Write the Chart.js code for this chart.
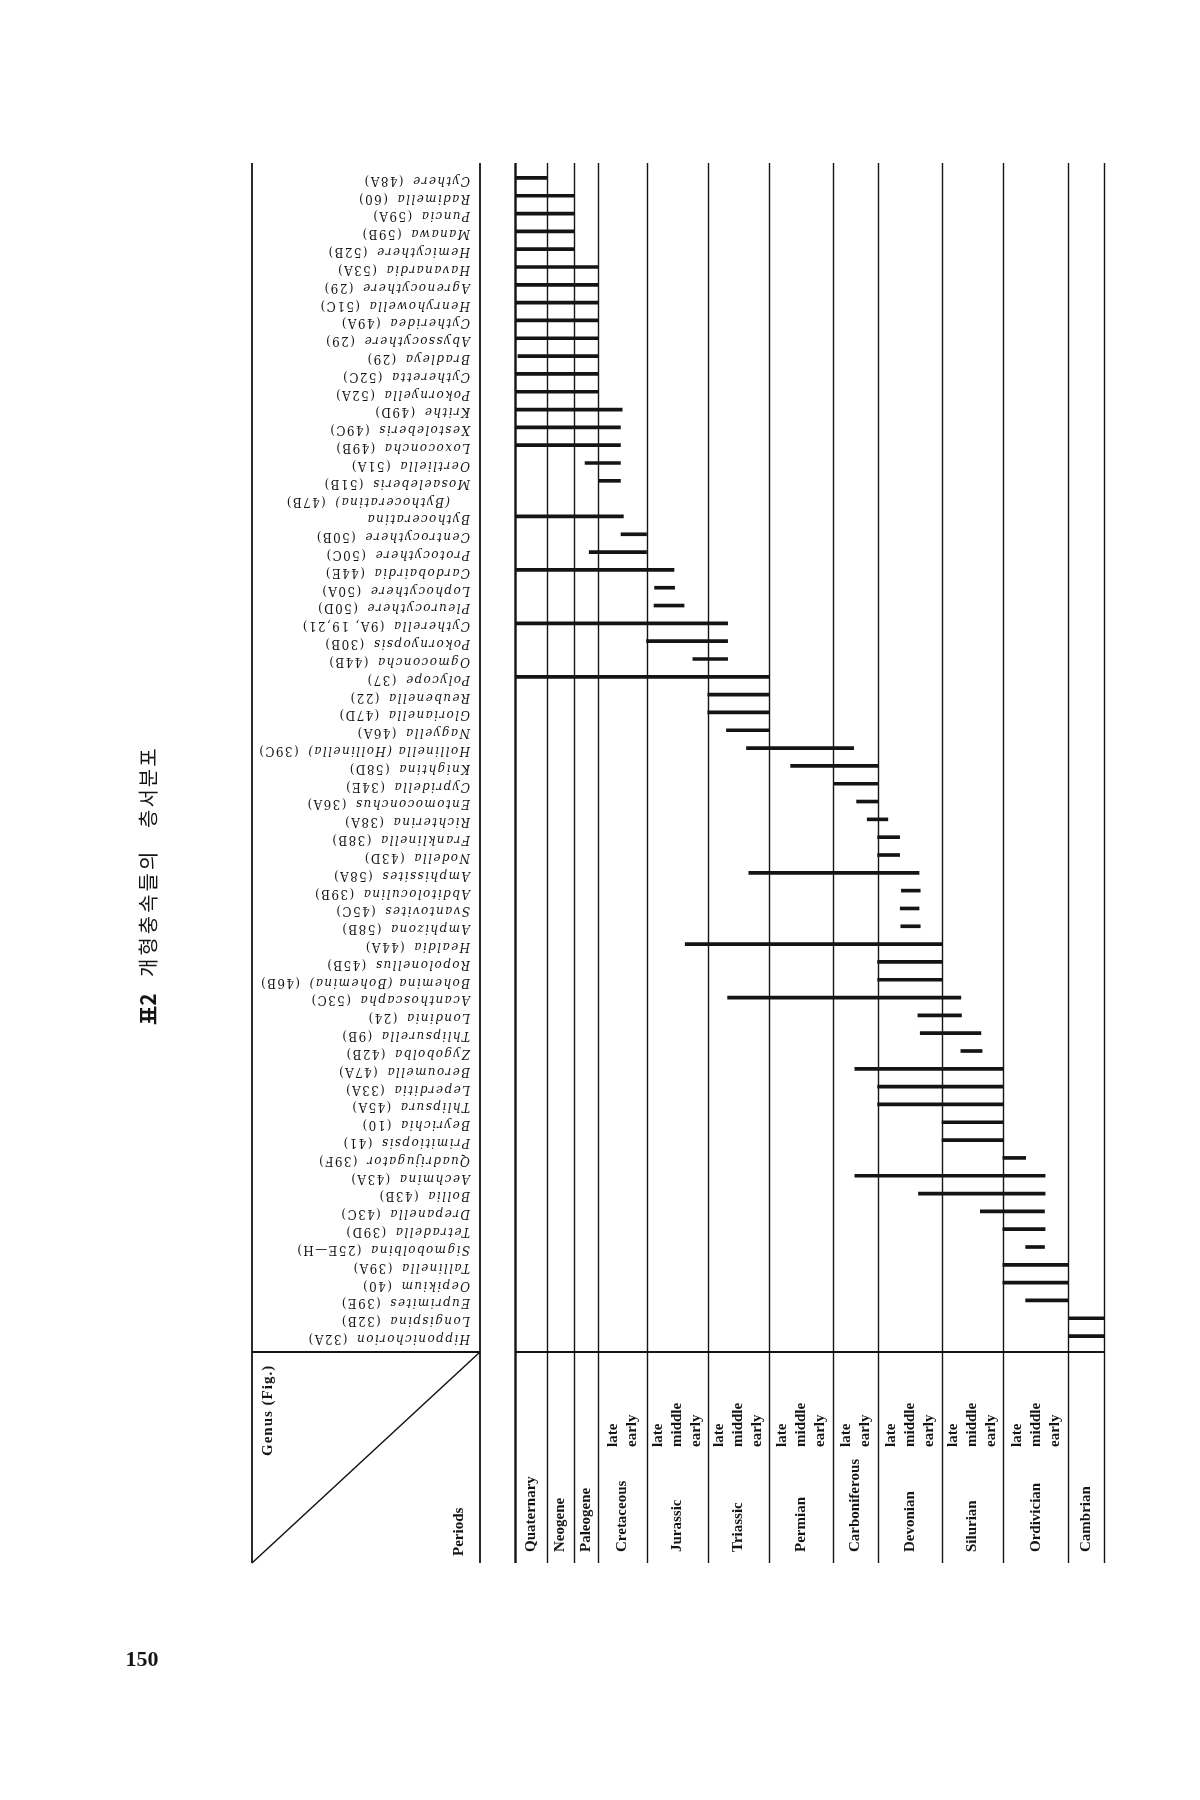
<!DOCTYPE html>
<html lang="ko">
<head>
<meta charset="utf-8">
<title>표2 개형충속들의 층서분포</title>
<script src="https://cdn.jsdelivr.net/npm/chart.js@4.4.1/dist/chart.umd.min.js"></script>
<style>
  html, body { margin: 0; padding: 0; background: #fff; }
  canvas { display: block; }
</style>
</head>
<body>
<canvas id="rangeChart" width="1200" height="1800"></canvas>
<script>
// genus rows, top to bottom as printed (the page is turned, labels read upside down)
const genera = [
  "Cythere", "Radimella", "Puncia", "Manawa", "Hemicythere", "Havanardia",
  "Agrenocythere", "Henryhowella", "Cytheridea", "Abyssocythere", "Bradleya",
  "Cytheretta", "Pokornyella", "Krithe", "Xestoleberis", "Loxoconcha",
  "Oertliella", "Mosaeleberis", "(Bythoceratina)", "Bythoceratina",
  "Centrocythere", "Protocythere", "Cardobairdia", "Lophocythere",
  "Pleurocythere", "Cytherella", "Pokornyopsis", "Ogmoconcha", "Polycope",
  "Reubenella", "Glorianella", "Nagyella", "Hollinella (Hollinella)",
  "Knightina", "Cypridella", "Entomoconchus", "Richterina", "Franklinella",
  "Nodella", "Amphissites", "Abditoloculina", "Svantovites", "Amphizona",
  "Healdia", "Ropolonellus", "Bohemina (Bohemina)", "Acanthoscapha",
  "Londinia", "Thlipsurella", "Zygobolba", "Beroumella", "Leperditia",
  "Thlipsura", "Beyrichia", "Primitiopsis", "Quadrijugator", "Aechmina",
  "Bollia", "Drepanella", "Tetradella", "Sigmobolbina", "Tallinella",
  "Oepikium", "Euprimites", "Longispina", "Hipponichorion"
];
const figures = [
  "48A", "60", "59A", "59B", "52B", "53A", "29", "51C", "49A", "29", "29",
  "52C", "52A", "49D", "49C", "49B", "51A", "51B", "47B", "", "50B", "50C",
  "44E", "50A", "50D", "9A, 19,21", "30B", "44B", "37", "22", "47D", "46A",
  "39C", "58D", "34E", "36A", "38A", "38B", "43D", "58A", "39B", "45C", "58B",
  "44A", "45B", "46B", "53C", "24", "9B", "42B", "47A", "33A", "45A", "10",
  "41", "39F", "43A", "43B", "43C", "39D", "25E\u2014H", "39A", "40", "39E",
  "32B", "32A"
];

// time axis in relative units (0 = Recent, 100 = base of the Cambrian column)
const periodNames = [
  "Quaternary", "Neogene", "Paleogene", "Cretaceous", "Jurassic", "Triassic",
  "Permian", "Carboniferous", "Devonian", "Silurian", "Ordivician", "Cambrian"
];
const periodEdges = [0, 5.37, 10.06, 14.15, 22.33, 32.73, 43.13, 54.06, 61.57, 72.5, 82.83, 93.96, 100];
const periodStages = [
  [], [], [], ["late", "early"], ["late", "middle", "early"],
  ["late", "middle", "early"], ["late", "middle", "early"], ["late", "early"],
  ["late", "middle", "early"], ["late", "middle", "early"],
  ["late", "middle", "early"], []
];

// range of each genus (young end, old end); null = no line drawn
const rangeStart = [
  0, 0, 0, 0, 0, 0, 0, 0, 0, 0, 0.5, 0, 0, 0, 0, 0,
  11.9, 14.15, null, 0, 18.0, 12.6, 0, 23.7, 23.6, 0, 22.33, 30.2, 0,
  32.73, 32.73, 35.9, 39.3, 46.8, 54.06, 58.0, 59.8, 61.57, 61.57, 39.7,
  65.6, 65.4, 65.5, 28.9, 61.57, 61.57, 36.1, 68.4, 68.8, 75.7, 57.7,
  61.57, 61.57, 72.5, 72.5, 82.83, 57.7, 68.5, 79.0, 82.83, 86.7, 82.83,
  82.83, 86.7, 93.96, 93.96
];
const rangeEnd = [
  5.37, 10.06, 10.06, 10.06, 10.06, 14.15, 14.15, 14.15, 14.15, 14.15, 14.15,
  14.15, 14.15, 18.2, 17.9, 17.9, 17.9, 17.9, null, 18.4, 22.33, 22.33, 27.0,
  27.1, 28.7, 36.1, 36.1, 36.1, 43.13, 43.13, 43.13, 43.13, 57.5, 61.57,
  61.57, 61.57, 63.3, 65.3, 65.3, 68.6, 68.8, 68.6, 68.8, 72.5, 72.5, 72.5,
  75.7, 75.8, 79.1, 79.3, 82.83, 82.83, 82.83, 82.83, 82.83, 86.7, 90.0,
  90.0, 89.9, 90.0, 89.9, 93.96, 93.96, 93.96, 100, 100
];

const ink = "#141414";
const tableTop = 163, tableBottom = 1563, headerLine = 1352;
const boxLeft = 252, boxRight = 480;

const tablePlugin = {
  id: "rangeTable",
  beforeDraw(chart) {
    const ctx = chart.ctx;
    ctx.save();
    ctx.fillStyle = "#ffffff";
    ctx.fillRect(0, 0, chart.width, chart.height);
    ctx.restore();
  },
  beforeDatasetsDraw(chart) {
    const { ctx, scales: { x } } = chart;
    ctx.save();
    ctx.strokeStyle = ink;
    // period boundaries
    periodEdges.forEach((e, i) => {
      const px = Math.round(x.getPixelForValue(e)) + 0.5;
      ctx.lineWidth = i === 0 ? 2.4 : 1.4;
      ctx.beginPath();
      ctx.moveTo(px, tableTop);
      ctx.lineTo(px, tableBottom);
      ctx.stroke();
    });
    // header separator
    ctx.lineWidth = 2;
    ctx.beginPath();
    ctx.moveTo(boxLeft, headerLine);
    ctx.lineTo(boxRight, headerLine);
    ctx.moveTo(x.getPixelForValue(periodEdges[0]), headerLine);
    ctx.lineTo(x.getPixelForValue(periodEdges[periodEdges.length - 1]), headerLine);
    ctx.stroke();
    // genus column frame and corner diagonal
    ctx.lineWidth = 1.8;
    ctx.beginPath();
    ctx.moveTo(boxLeft, tableTop);
    ctx.lineTo(boxLeft, tableBottom);
    ctx.moveTo(boxRight, tableTop);
    ctx.lineTo(boxRight, tableBottom);
    ctx.stroke();
    ctx.lineWidth = 1.5;
    ctx.beginPath();
    ctx.moveTo(boxLeft, tableBottom);
    ctx.lineTo(boxRight, headerLine);
    ctx.stroke();
    ctx.restore();
  },
  afterDraw(chart) {
    const { ctx, scales: { x, y } } = chart;
    ctx.save();
    ctx.fillStyle = ink;
    const hasSpacing = "letterSpacing" in ctx;

    // genus names, turned upside down
    genera.forEach((name, i) => {
      const py = y.getPixelForValue(i) + 2;
      const indent = name.startsWith("(") ? 20 : 0;
      ctx.save();
      ctx.translate(470 - indent, py);
      ctx.rotate(Math.PI);
      ctx.textAlign = "left";
      ctx.textBaseline = "middle";
      if (hasSpacing) ctx.letterSpacing = "1.4px";
      ctx.font = 'italic 12px "DejaVu Serif"';
      ctx.fillText(name, 0, 0);
      if (figures[i]) {
        const w = ctx.measureText(name + " ").width;
        ctx.font = '12px "DejaVu Serif"';
        ctx.fillText("(" + figures[i] + ")", w + 3, 0);
      }
      ctx.restore();
    });

    // period header, text running bottom to top
    const vtext = (txt, px, py, font, spacing) => {
      ctx.save();
      ctx.translate(px, py);
      ctx.rotate(-Math.PI / 2);
      ctx.textAlign = "left";
      ctx.textBaseline = "middle";
      if (hasSpacing) ctx.letterSpacing = spacing || "0px";
      ctx.font = font;
      ctx.fillText(txt, 0, 0);
      ctx.restore();
    };
    const headFont = 'bold 15px "Liberation Serif"';
    periodNames.forEach((name, i) => {
      const cx = (x.getPixelForValue(periodEdges[i]) + x.getPixelForValue(periodEdges[i + 1])) / 2;
      vtext(name, cx, 1552, headFont);
      const subs = periodStages[i];
      subs.forEach((s, k) => {
        vtext(s, cx + (k - (subs.length - 1) / 2) * 19, 1447, headFont);
      });
    });
    vtext("Genus (Fig.)", 268, 1456, 'bold 15px "Liberation Serif"', "1px");
    vtext("Periods", 459, 1556, 'bold 15px "Liberation Serif"');

    // table title
    vtext("표2", 148, 1025, 'bold 21px "Noto Sans CJK KR"');
    vtext("개형충속들의", 148, 977, '20px "Noto Sans CJK KR"', "3px");
    vtext("층서분포", 148, 828, '20px "Noto Sans CJK KR"', "2px");

    // page number
    ctx.textAlign = "center";
    ctx.textBaseline = "alphabetic";
    ctx.font = 'bold 22px "Liberation Serif"';
    ctx.fillText("150", 142, 1666);
    ctx.restore();
  }
};

new Chart(document.getElementById("rangeChart"), {
  type: "bar",
  data: {
    labels: genera,
    datasets: [{
      label: "range",
      data: rangeStart.map((s, i) => (s === null ? null : [s, rangeEnd[i]])),
      backgroundColor: ink,
      borderWidth: 0,
      borderSkipped: false,
      barThickness: 3
    }]
  },
  options: {
    indexAxis: "y",
    responsive: false,
    animation: false,
    devicePixelRatio: 1,
    layout: { padding: { left: 515, right: 96, top: 169, bottom: 455 } },
    scales: {
      x: { type: "linear", min: 0, max: 100, display: false },
      y: { type: "category", display: false, offset: true }
    },
    plugins: {
      legend: { display: false },
      tooltip: { enabled: false }
    }
  },
  plugins: [tablePlugin]
});
</script>
</body>
</html>
